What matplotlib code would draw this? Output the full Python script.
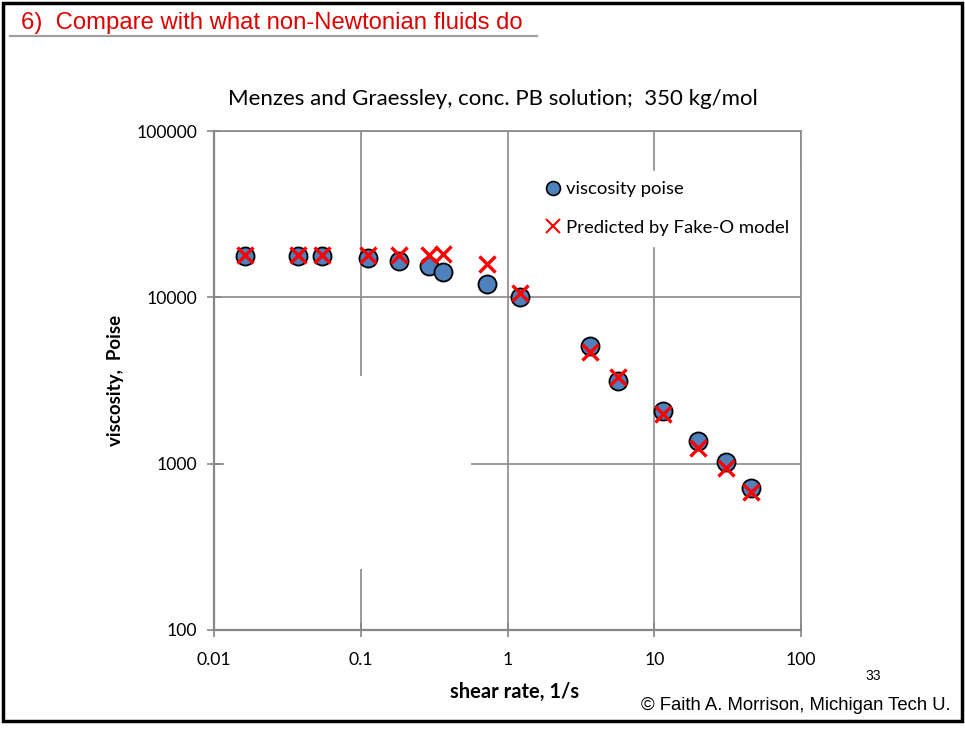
import matplotlib
matplotlib.use("Agg")
import matplotlib.pyplot as plt
from matplotlib.patches import Rectangle
from matplotlib.lines import Line2D
from matplotlib.ticker import FixedLocator, FixedFormatter, NullLocator

# ---- data ----
shear_rate = [0.0163, 0.0374, 0.0545, 0.1126, 0.182, 0.293, 0.3635, 0.729, 1.211,
              3.65, 5.69, 11.53, 19.97, 30.7, 45.4]
viscosity = [17700, 17700, 17700, 17160, 16530, 15490, 14250, 11970, 10080,
             5094, 3151, 2080, 1368, 1027, 710]
predicted = [17970, 17970, 17970, 17970, 17970, 17970, 18100, 15790, 10570,
             4710, 3302, 1979, 1246, 937, 678]
x_ticks = [0.01, 0.1, 1, 10, 100]
x_tick_labels = ["0.01", "0.1", "1", "10", "100"]
y_ticks = [100, 1000, 10000, 100000]
y_tick_labels = ["100", "1000", "10000", "100000"]

W, H = 965, 729
fig = plt.figure(figsize=(W / 100, H / 100), dpi=100)
fig.patch.set_facecolor("white")

def fx(px):
    return px / W

def fy(py):
    return 1 - py / H

CAL = ["Lato", "DejaVu Sans"]
ARIAL = ["Liberation Sans", "DejaVu Sans"]
GRID = "#898989"

# slide border
fig.add_artist(Rectangle((fx(3), fy(721)), fx(959), 718 / H, transform=fig.transFigure,
                         fill=False, edgecolor="black", linewidth=2.5))
# slide title + underline
fig.text(fx(21), fy(23), "6)  Compare with what non-Newtonian fluids do", color="#dd0000",
         fontsize=17.2, family=ARIAL, ha="left", va="center")
fig.add_artist(Line2D([fx(10), fx(537)], [fy(36), fy(36)], transform=fig.transFigure,
                      color="#a0a0a0", linewidth=1.6))

# axes
ax = fig.add_axes([fx(214), fy(630), fx(801) - fx(214), fy(131) - fy(630)])
ax.set_xscale("log")
ax.set_yscale("log")
ax.set_xlim(0.01, 100)
ax.set_ylim(100, 100000)

ax.xaxis.set_major_locator(FixedLocator(x_ticks))
ax.xaxis.set_major_formatter(FixedFormatter(x_tick_labels))
ax.yaxis.set_major_locator(FixedLocator(y_ticks))
ax.yaxis.set_major_formatter(FixedFormatter(y_tick_labels))
ax.xaxis.set_minor_locator(NullLocator())
ax.yaxis.set_minor_locator(NullLocator())

ax.grid(True, color=GRID, linewidth=1.2)
ax.set_axisbelow(True)
for s in ["left", "bottom"]:
    ax.spines[s].set_color("#868686")
    ax.spines[s].set_linewidth(1.6)
for s in ["top", "right"]:
    ax.spines[s].set_color(GRID)
    ax.spines[s].set_linewidth(1.2)
ax.tick_params(axis="both", which="major", direction="inout", length=10, width=1.2,
               color="#868686", labelsize=12.7, pad=7)
for lab in ax.get_xticklabels() + ax.get_yticklabels():
    lab.set_family(CAL)
ax.tick_params(axis="x", pad=11)

# white box hiding part of grid (as in reference)
ax.add_patch(Rectangle((fx(224), fy(569)), fx(471) - fx(224), fy(376) - fy(569),
                       transform=fig.transFigure, facecolor="white", edgecolor="none", zorder=1))

ax.plot(shear_rate, viscosity, linestyle="none", marker="o", markersize=13,
        markerfacecolor="#4F81BD", markeredgecolor="black", markeredgewidth=1.3,
        label="viscosity poise", zorder=3)
ax.plot(shear_rate, predicted, linestyle="none", marker="x", markersize=12,
        color="#FF0000", markeredgewidth=2.4, label="Predicted by Fake-O model", zorder=4)

leg = ax.legend(loc="upper left", bbox_to_anchor=((537 - 214) / 587, 1 - (171 - 131) / 499),
                frameon=True, fancybox=False, framealpha=1, edgecolor="white",
                prop={"family": CAL, "size": 13.3}, handlelength=0.6, handletextpad=0.4,
                labelspacing=1.22, borderpad=0.55, borderaxespad=0)
leg.set_zorder(2)
for h in leg.legend_handles:
    h.set_markersize(10)
leg.legend_handles[1].set_markeredgewidth(1.5)
leg.legend_handles[0].set_markeredgewidth(1.2)

ax.set_title("Menzes and Graessley, conc. PB solution;  350 kg/mol", family=CAL,
             fontsize=16, pad=19, x=(493 - 214) / 587)
ax.set_xlabel("shear rate, 1/s", family=CAL, fontsize=14.5, fontweight="bold", labelpad=10)
ax.xaxis.label.set_x((515 - 214) / 587)
ax.set_ylabel("viscosity,  Poise", family=CAL, fontsize=13.5, fontweight="bold", labelpad=9)

fig.text(fx(873), fy(676), "33", fontsize=10, family=ARIAL, ha="center", va="center")
fig.text(fx(951), fy(705), "\u00a9 Faith A. Morrison, Michigan Tech U.", fontsize=13.3,
         family=ARIAL, ha="right", va="center")

fig.savefig("out.png", dpi=100)
